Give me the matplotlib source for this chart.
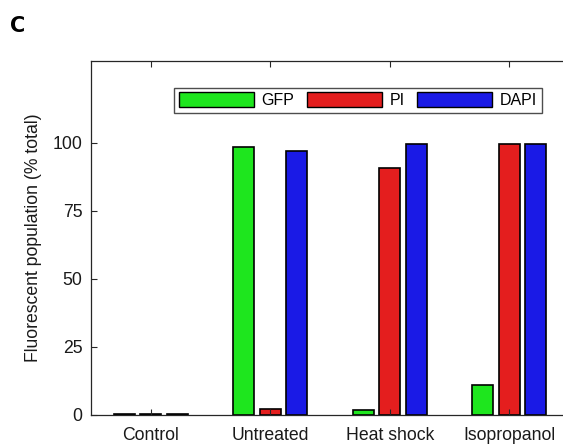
import matplotlib.pyplot as plt
import numpy as np
from matplotlib.patches import Patch

plt.rcParams['font.family'] = ['Liberation Sans', 'DejaVu Sans']

# percentage of the population that is fluorescent for each stain
groups = ['Control', 'Untreated', 'Heat shock', 'Isopropanol']
stains = ['GFP', 'PI', 'DAPI']
gfp = [0.3, 98.6, 1.7, 10.9]
pi = [0.3, 2.2, 90.6, 99.5]
dapi = [0.3, 96.8, 99.5, 99.5]
colors = ['#1ee61e', '#e41e1e', '#1a1ae6']

fig = plt.figure(figsize=(5.63, 4.48), dpi=100)
ax = fig.add_axes([0.1616, 0.0737, 0.849, 0.790])

x = np.arange(1, len(groups) + 1)
step = 0.2222
width = 0.8 * step
for i, vals in enumerate([gfp, pi, dapi]):
    ax.bar(x + (i - 1) * step, vals, width, color=colors[i],
           edgecolor='black', linewidth=1.2)

axcol = '#262626'
ax.set_xlim(0.5, 4.5)
ax.set_ylim(0, 130)
ax.set_yticks([0, 25, 50, 75, 100])
ax.set_xticks(x)
ax.set_xticklabels(groups)
ax.tick_params(direction='in', length=4, width=0.8, colors=axcol,
               labelcolor='#1a1a1a', labelsize=12.7, top=True, right=True,
               pad=6)
ax.tick_params(axis='x', pad=9)
for s in ax.spines.values():
    s.set_color(axcol)
    s.set_linewidth(0.9)
ax.set_ylabel('Fluorescent population (% total)', fontsize=12.7,
              color='#1a1a1a', labelpad=8)

handles = [Patch(facecolor=c, edgecolor='black', linewidth=1.0) for c in colors]
fig.legend(handles, stains, loc='center', bbox_to_anchor=(0.636, 0.776),
           ncol=3, fontsize=11.5, frameon=True, fancybox=False,
           edgecolor='#4d4d4d', handlelength=4.7, handleheight=1.05,
           handletextpad=0.45, columnspacing=0.8, borderpad=0.3,
           framealpha=1)

fig.text(0.018, 0.942, 'C', fontsize=15, fontweight='bold',
         family='DejaVu Sans', va='center', ha='left')

fig.savefig('out.png', dpi=100)
plt.close(fig)
